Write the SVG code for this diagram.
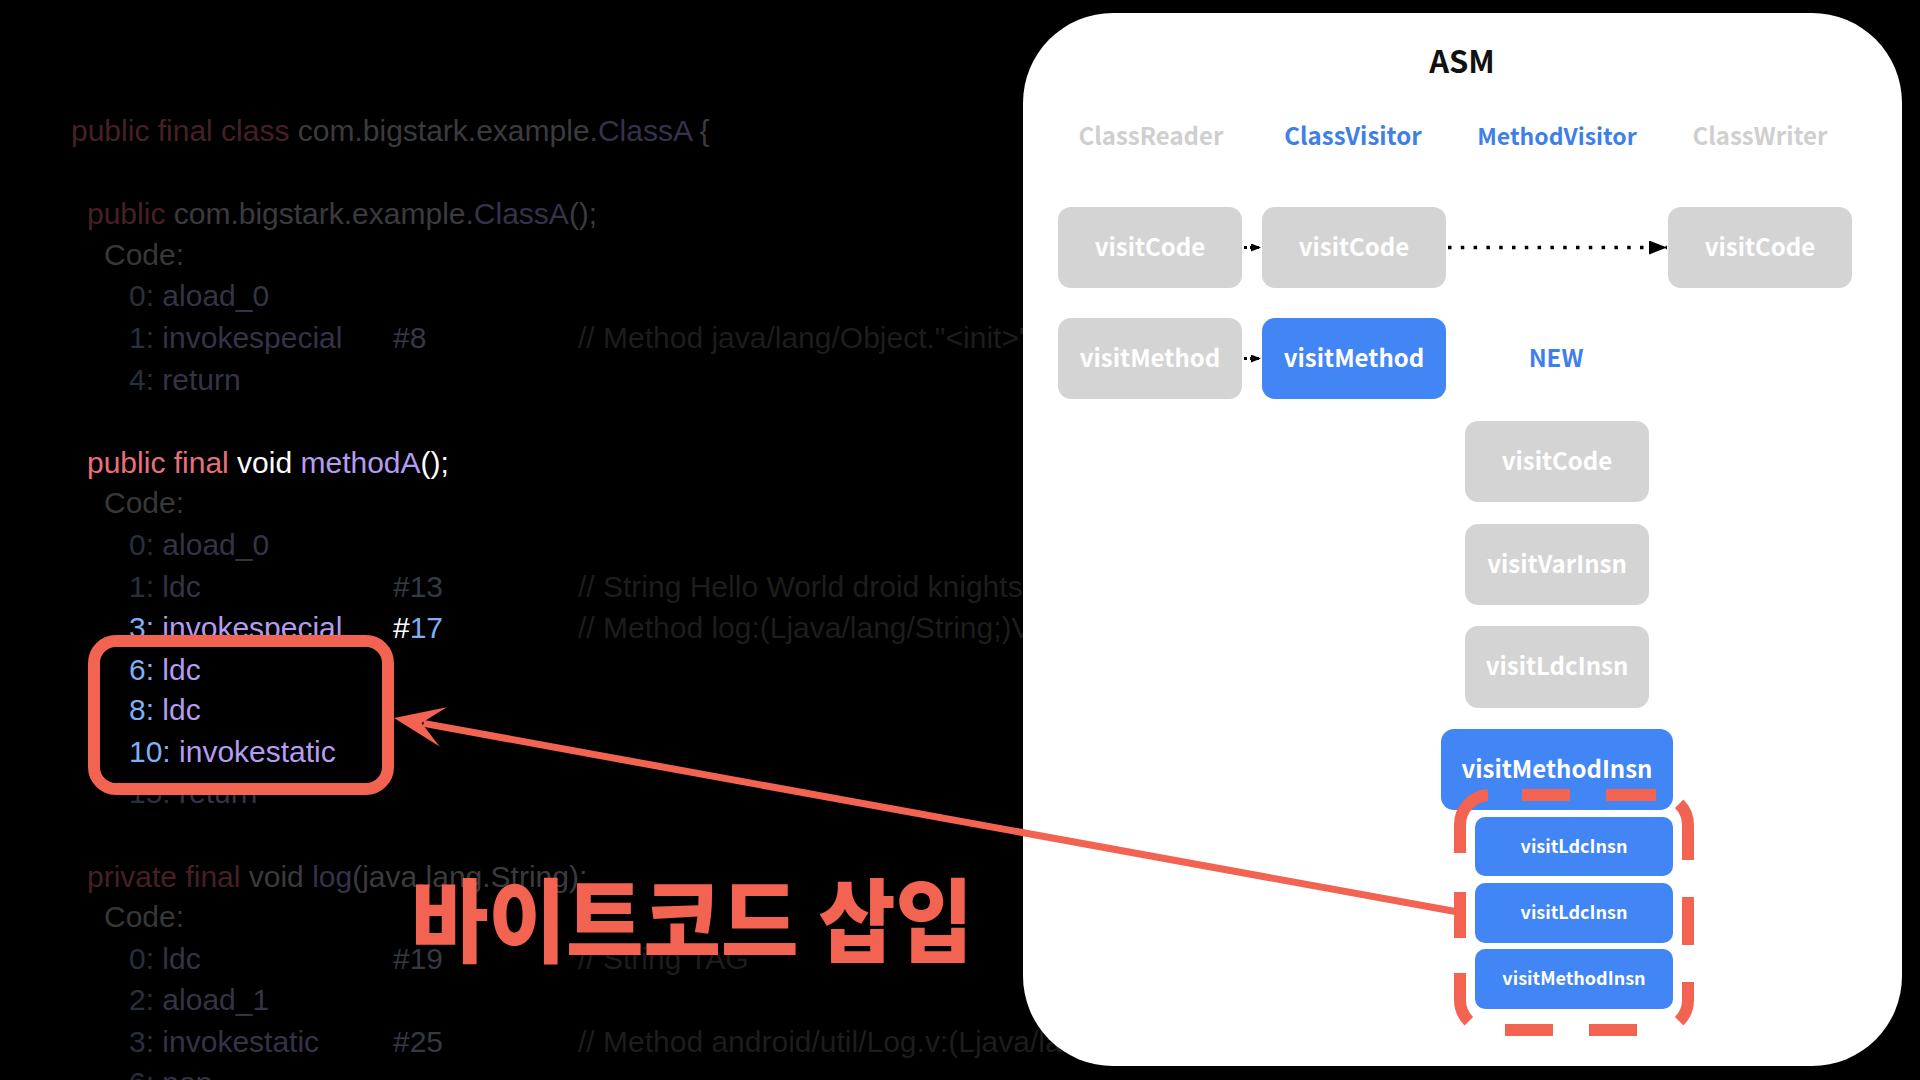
<svg xmlns="http://www.w3.org/2000/svg" width="1920" height="1080" viewBox="0 0 1920 1080">
<style>
.code{font-family:"Liberation Sans",Arial,sans-serif;font-size:30px}
.kd{fill:#452026}.idd{fill:#3b3b3f}.cd{fill:#36324a}.gr{fill:#383838}.nd{fill:#28303e}.od{fill:#353345}.rd{fill:#343944}.cm{fill:#1d1d1d}
.kw{fill:#e8707a}.wh{fill:#ffffff}.me{fill:#b49cf0}.nu{fill:#7db0f5}
.pn{font-family:"Noto Sans CJK KR","Noto Sans",sans-serif;font-weight:700;text-anchor:middle}
.box-g{fill:#d4d4d4}.box-b{fill:#4285f4}
.bt{font-size:24px;fill:#ffffff}.st{font-size:18px;fill:#ffffff}
.hd{font-size:24px}.hg{fill:#cfcfcf}.hb{fill:#3f7fe6}
.red{stroke:#f26351;fill:none}
</style>
<defs>
<marker id="sa" viewBox="0 0 10 8" refX="10" refY="4" markerWidth="10" markerHeight="8" markerUnits="userSpaceOnUse" orient="auto"><path d="M0,0 L10,4 L0,8 Z" fill="#000"/></marker>
<marker id="la" viewBox="0 0 18 14" refX="18" refY="7" markerWidth="18" markerHeight="14" markerUnits="userSpaceOnUse" orient="auto"><path d="M0,0 L18,7 L0,14 Z" fill="#000"/></marker>
</defs>
<rect width="1920" height="1080" fill="#000"/>

<g id="code">
<text class="code" x="71" y="141"><tspan class="kd">public final class </tspan><tspan class="idd">com.bigstark.example.</tspan><tspan class="cd">ClassA</tspan><tspan class="idd"> {</tspan></text>
<text class="code" x="87" y="224"><tspan class="kd">public </tspan><tspan class="idd">com.bigstark.example.</tspan><tspan class="cd">ClassA</tspan><tspan class="idd">();</tspan></text>
<text class="code gr" x="104" y="265">Code:</text>
<text class="code" x="129" y="306"><tspan class="nd">0: </tspan><tspan class="od">aload_0</tspan></text>
<text class="code" x="129" y="348"><tspan class="nd">1: </tspan><tspan class="od">invokespecial</tspan><tspan class="rd" x="393">#8</tspan><tspan class="cm" x="578">// Method java/lang/Object."&lt;init&gt;"</tspan></text>
<text class="code" x="129" y="390"><tspan class="nd">4: </tspan><tspan class="od">return</tspan></text>

<text class="code" x="87" y="473"><tspan class="kw">public final </tspan><tspan class="wh">void </tspan><tspan class="me">methodA</tspan><tspan class="wh">();</tspan></text>
<text class="code gr" x="104" y="513">Code:</text>
<text class="code" x="129" y="555"><tspan class="nd">0: </tspan><tspan class="od">aload_0</tspan></text>
<text class="code" x="129" y="597"><tspan class="nd">1: </tspan><tspan class="od">ldc</tspan><tspan class="rd" x="393">#13</tspan><tspan class="cm" x="578">// String Hello World droid knights</tspan></text>
<text class="code" x="129" y="638"><tspan class="nu">3: </tspan><tspan class="me">invokespecial</tspan><tspan class="wh" x="393">#</tspan><tspan class="nu">17</tspan><tspan class="cm" x="578">// Method log:(Ljava/lang/String;)V</tspan></text>
<text class="code" x="129" y="680"><tspan class="nu">6: </tspan><tspan class="me">ldc</tspan></text>
<text class="code" x="129" y="720"><tspan class="nu">8: </tspan><tspan class="me">ldc</tspan></text>
<text class="code" x="129" y="762"><tspan class="nu">10: </tspan><tspan class="me">invokestatic</tspan></text>
<text class="code" x="129" y="803"><tspan class="nd">15: </tspan><tspan class="od">return</tspan></text>

<text class="code" x="87" y="887"><tspan class="kd">private final </tspan><tspan class="idd">void </tspan><tspan class="cd">log</tspan><tspan class="idd">(java.lang.String);</tspan></text>
<text class="code gr" x="104" y="927">Code:</text>
<text class="code" x="129" y="969"><tspan class="nd">0: </tspan><tspan class="od">ldc</tspan><tspan class="rd" x="393">#19</tspan><tspan class="cm" x="578">// String TAG</tspan></text>
<text class="code" x="129" y="1010"><tspan class="nd">2: </tspan><tspan class="od">aload_1</tspan></text>
<text class="code" x="129" y="1052"><tspan class="nd">3: </tspan><tspan class="od">invokestatic</tspan><tspan class="rd" x="393">#25</tspan><tspan class="cm" x="578">// Method android/util/Log.v:(Ljava/lang/</tspan></text>
<text class="code" x="129" y="1093"><tspan class="nd">6: </tspan><tspan class="od">pop</tspan></text>
</g>

<g id="code-highlight">
<rect class="red" x="94" y="641" width="294" height="148" rx="22" stroke-width="12"/>
</g>

<g id="title-ko">
<text x="411" y="955" textLength="562" lengthAdjust="spacingAndGlyphs" font-family="'Noto Sans CJK KR',sans-serif" font-weight="900" font-size="91" fill="#f26351">바이트코드 삽입</text>
</g>

<g id="asm-panel">
<rect x="1023" y="13" width="879" height="1053" rx="90" fill="#ffffff"/>
<text class="pn" x="1462" y="73" font-size="31" fill="#111">ASM</text>
<text class="pn hd hg" x="1151" y="145">ClassReader</text>
<text class="pn hd hb" x="1353" y="145">ClassVisitor</text>
<text class="pn hb" x="1557" y="145" font-size="23">MethodVisitor</text>
<text class="pn hd hg" x="1760" y="145">ClassWriter</text>
</g>

<g id="reader-visitCode"><rect class="box-g" x="1058" y="207" width="184" height="81" rx="13"/><text class="pn bt" x="1150" y="256">visitCode</text></g>
<g id="visitor-visitCode"><rect class="box-g" x="1262" y="207" width="184" height="81" rx="13"/><text class="pn bt" x="1354" y="256">visitCode</text></g>
<g id="writer-visitCode"><rect class="box-g" x="1668" y="207" width="184" height="81" rx="13"/><text class="pn bt" x="1760" y="256">visitCode</text></g>
<g id="reader-visitMethod"><rect class="box-g" x="1058" y="318" width="184" height="81" rx="13"/><text class="pn bt" x="1150" y="367">visitMethod</text></g>
<g id="visitor-visitMethod"><rect class="box-b" x="1262" y="318" width="184" height="81" rx="13"/><text class="pn bt" x="1354" y="367">visitMethod</text></g>
<g id="new-label"><text class="pn" x="1556" y="367" font-size="24" fill="#3f7fe6">NEW</text></g>
<g id="mv-visitCode"><rect class="box-g" x="1465" y="421" width="184" height="81" rx="13"/><text class="pn bt" x="1557" y="470">visitCode</text></g>
<g id="mv-visitVarInsn"><rect class="box-g" x="1465" y="524" width="184" height="81" rx="13"/><text class="pn bt" x="1557" y="573">visitVarInsn</text></g>
<g id="mv-visitLdcInsn"><rect class="box-g" x="1465" y="626" width="184" height="82" rx="13"/><text class="pn bt" x="1557" y="675">visitLdcInsn</text></g>
<g id="mv-visitMethodInsn"><rect class="box-b" x="1441" y="729" width="232" height="81" rx="13"/><text class="pn bt" x="1557" y="778">visitMethodInsn</text></g>
<g id="new-visitLdcInsn-1"><rect class="box-b" x="1475" y="817" width="198" height="59" rx="10"/><text class="pn st" x="1574" y="853">visitLdcInsn</text></g>
<g id="new-visitLdcInsn-2"><rect class="box-b" x="1475" y="883" width="198" height="60" rx="10"/><text class="pn st" x="1574" y="919">visitLdcInsn</text></g>
<g id="new-visitMethodInsn"><rect class="box-b" x="1475" y="949" width="198" height="60" rx="10"/><text class="pn st" x="1574" y="985">visitMethodInsn</text></g>

<g id="inserted-group">
<path class="red" stroke-width="12" d="M1460,853 V825 A30,30 0 0 1 1488,795 M1522,795 H1570 M1606,795 H1656 M1679.2,803.8 A30,30 0 0 1 1688,825 V860 M1688,897 V945 M1688,982 V1000 A30,30 0 0 1 1679.2,1021.2 M1637,1030 H1589 M1553,1030 H1505 M1468.8,1021.2 A30,30 0 0 1 1460,1000 V973 M1460,938 V892"/>
</g>

<g id="connectors">
<line x1="1244" y1="247.5" x2="1261" y2="247.5" stroke="#000" stroke-width="3" stroke-dasharray="3 3" marker-end="url(#sa)"/>
<line x1="1244" y1="358.5" x2="1261" y2="358.5" stroke="#000" stroke-width="3" stroke-dasharray="3 3" marker-end="url(#sa)"/>
<line x1="1448" y1="247.5" x2="1667" y2="247.5" stroke="#000" stroke-width="3.5" stroke-dasharray="3.5 9.3" marker-end="url(#la)"/>
<line x1="1458" y1="912" x2="423.5" y2="723.4" stroke="#f26351" stroke-width="7"/>
<polygon points="394,718 446.8,707.3 421.5,723 439.6,746.6" fill="#f26351"/>
</g>
</svg>
